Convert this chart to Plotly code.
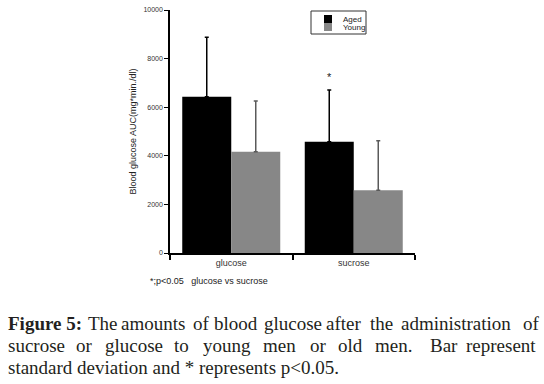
import plotly.graph_objects as go

categories = ["glucose", "sucrose"]
aged_mean = [6430, 4580]
aged_sd = [2446, 2128]
young_mean = [4170, 2580]
young_sd = [2085, 2041]
series_names = ["Aged", "Young"]
y_ticks = [0, 2000, 4000, 6000, 8000, 10000]
y_tick_labels = ["0", "2000", "4000", "6000", "8000", "10000"]

W, H = 544, 384
L, R, T, B = 170, 129, 10, 131
PW, PH = W - L - R, H - T - B

def px(x):
    return (x - L) / PW

def py(y):
    return (T + PH - y) / PH

fig = go.Figure()
fig.add_trace(go.Bar(
    x=categories, y=aged_mean, name=series_names[0],
    marker=dict(color="#000000", line=dict(width=0)),
    error_y=dict(type="data", array=aged_sd, symmetric=False,
                 arrayminus=[0, 0], color="#000000", thickness=1.5, width=2),
    showlegend=False,
))
fig.add_trace(go.Bar(
    x=categories, y=young_mean, name=series_names[1],
    marker=dict(color="#878787", line=dict(width=0)),
    error_y=dict(type="data", array=young_sd, symmetric=False,
                 arrayminus=[0, 0], color="#5a5a5a", thickness=1.5, width=2),
    showlegend=False,
))

ann = []
shapes = []

# significance star above sucrose aged bar
ann.append(dict(x=0.8, y=7250, xref="x", yref="y", text="*", showarrow=False,
                font=dict(family="Liberation Sans", size=11, color="#222")))

# manual legend
shapes.append(dict(type="rect", xref="paper", yref="paper",
                   x0=px(311), x1=px(366), y0=py(34), y1=py(11),
                   line=dict(color="#333", width=1), fillcolor="white"))
shapes.append(dict(type="rect", xref="paper", yref="paper",
                   x0=px(324), x1=px(332), y0=py(23), y1=py(15),
                   line=dict(width=0), fillcolor="#000000"))
shapes.append(dict(type="rect", xref="paper", yref="paper",
                   x0=px(324), x1=px(332), y0=py(31), y1=py(23),
                   line=dict(width=0), fillcolor="#878787"))
for name, yc in zip(series_names, [19.5, 27]):
    ann.append(dict(x=px(341), y=py(yc), xref="paper", yref="paper",
                    xanchor="left", yanchor="middle", text=name, showarrow=False,
                    font=dict(family="Liberation Sans", size=8, color="#222")))

# footnote
ann.append(dict(x=px(148), y=py(281), xref="paper", yref="paper",
                xanchor="left", yanchor="middle",
                text="*;p<0.05 &nbsp;&nbsp;glucose vs sucrose", showarrow=False,
                font=dict(family="Liberation Sans", size=9, color="#222")))

# caption (justified lines placed word by word)
cap_font = dict(family="Liberation Serif", size=19, color="#231f20")
line1 = [("<b>Figure 5:</b>", 7), ("The", 87), ("amounts", 120), ("of", 192),
         ("blood", 213), ("glucose", 263), ("after", 325), ("the", 369),
         ("administration", 400), ("of", 522)]
line2 = [("sucrose", 7), ("or", 75), ("glucose", 104), ("to", 173), ("young", 202),
         ("men", 262), ("or", 309), ("old", 337), ("men.", 374), ("Bar", 429),
         ("represent", 465)]
for words, yc in [(line1, 323.5), (line2, 345.5)]:
    for w, xw in words:
        ann.append(dict(x=px(xw), y=py(yc), xref="paper", yref="paper",
                        xanchor="left", yanchor="middle", text=w, showarrow=False,
                        font=cap_font, xshift=-1))
ann.append(dict(x=px(7), y=py(367.5), xref="paper", yref="paper",
                xanchor="left", yanchor="middle",
                text="standard deviation and * represents p&lt;0.05.", showarrow=False,
                font=cap_font, xshift=-1))

fig.update_layout(
    width=W, height=H,
    margin=dict(l=L, r=R, t=T, b=B, autoexpand=False),
    paper_bgcolor="white", plot_bgcolor="white",
    barmode="group", bargap=0.2, bargroupgap=0,
    font=dict(family="Liberation Sans", color="#333"),
    annotations=ann, shapes=shapes,
    xaxis=dict(range=[-0.5, 1.5], showline=True, linecolor="#000", linewidth=1.5,
               ticks="outside", tickson="boundaries", ticklen=5, tickcolor="#000",
               tickwidth=1.5, tickfont=dict(size=9, color="#333"), showgrid=False,
               zeroline=False),
    yaxis=dict(range=[0, 10000], tickvals=y_ticks, ticktext=y_tick_labels,
               showline=True, linecolor="#000",
               linewidth=1.5, ticks="outside", ticklen=4, tickcolor="#000",
               tickfont=dict(size=7, color="#333"), showgrid=False, zeroline=False,
               title=dict(text="Blood glucose AUC(mg*min./dl)",
                          font=dict(size=9, color="#222"), standoff=5)),
)

fig.write_html("out.html", config={"displayModeBar": False},
               post_script="document.body.style.margin='0';document.body.style.overflow='hidden';")
